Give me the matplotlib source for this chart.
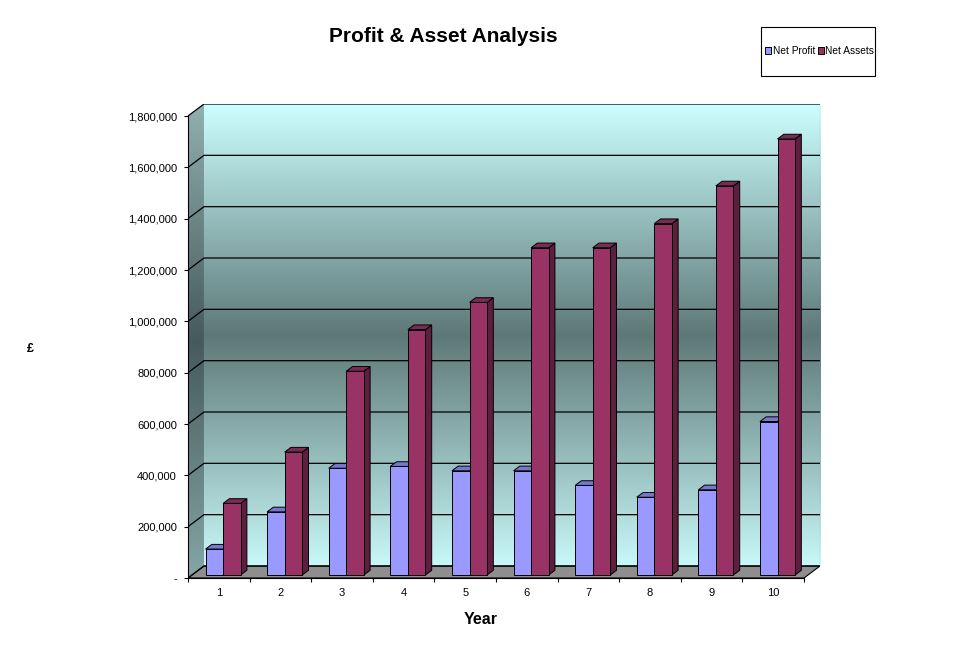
import numpy as np
import matplotlib.pyplot as plt
from matplotlib.patches import Polygon, Rectangle
from matplotlib.colors import LinearSegmentedColormap

plt.rcParams['font.family'] = ['Liberation Sans', 'DejaVu Sans']

years = ['1', '2', '3', '4', '5', '6', '7', '8', '9', '10']
net_profit = [101000, 246000, 416000, 423000, 406000, 406000, 349000, 303000, 332000, 598000]
net_assets = [279000, 479000, 794000, 956000, 1062000, 1275000, 1275000, 1369000, 1516000, 1699000]
y_ticks = [0, 200000, 400000, 600000, 800000, 1000000, 1200000, 1400000, 1600000, 1800000]
y_tick_labels = ['-', '200,000', '400,000', '600,000', '800,000', '1,000,000',
                 '1,200,000', '1,400,000', '1,600,000', '1,800,000']

n = len(years)
ymax = 1800000
# oblique depth of the walls, in data units (16 px right, 12 px up)
px_y = ymax / 462.0
dxw = 16 / 61.7
dyw = 12 * px_y

fig = plt.figure(figsize=(9.77, 6.69), dpi=100)
# axes covers front plane plus the back-wall offset
ax = fig.add_axes([188 / 977, 1 - 578 / 669, 632 / 977, 474 / 669])
ax.set_xlim(0, n + dxw)
ax.set_ylim(0, ymax + dyw)
for s in ax.spines.values():
    s.set_visible(False)

# wall gradient: light cyan at top and bottom, dark slate in the middle
wall_cmap = LinearSegmentedColormap.from_list('wall', ['#C8F8F8', '#5E7878', '#CCFFFF'])
side_cmap = LinearSegmentedColormap.from_list('side', ['#84A6A6', '#465A5A', '#90B0B0'])
grad = np.linspace(0, 1, 256).reshape(-1, 1)

ax.imshow(grad, cmap=wall_cmap, origin='lower', aspect='auto',
          extent=[dxw, n + dxw, dyw, ymax + dyw], zorder=0)
side = Polygon([(0, 0), (dxw, dyw), (dxw, ymax + dyw), (0, ymax)],
               closed=True, facecolor='none', edgecolor='none')
ax.add_patch(side)
im = ax.imshow(grad, cmap=side_cmap, origin='lower', aspect='auto',
               extent=[0, dxw, 0, ymax + dyw], zorder=0)
im.set_clip_path(side)

# floor
ax.add_patch(Polygon([(0, 0), (n, 0), (n + dxw, dyw), (dxw, dyw)], closed=True,
                     facecolor='#8E8E8E', edgecolor='black', linewidth=0.8, zorder=1))

# gridlines on side and back walls
for v in y_ticks:
    ax.plot([0, dxw, n + dxw], [v, v + dyw, v + dyw], color='black', linewidth=0.9, zorder=1)
ax.plot([n + dxw, n + dxw], [dyw, ymax + dyw], color='#808080', linewidth=0.8, zorder=1)

# front axis lines
ax.plot([0, 0], [0, ymax], color='black', linewidth=0.8, zorder=2, clip_on=False)
ax.plot([0, n], [0, 0], color='black', linewidth=0.8, zorder=2, clip_on=False)

# 3D-looking bars
z0, dz = 0.25, 0.39
bx, by = z0 * dxw, z0 * dyw
sx, sy = dz * dxw, dz * dyw
width = 0.285
x = np.arange(n)
series = [
    (net_profit, 0.22, '#9999FF', '#7777CC', '#5C5CA8', 'Net Profit'),
    (net_assets, 0.22 + width, '#993366', '#7A2A55', '#5E1E3F', 'Net Assets'),
]
handles = []
for i in range(n):
    for vals, off, front, top, sidec, lab in series:
        left = x[i] + off + bx
        v = vals[i]
        ax.add_patch(Polygon([(left + width, by), (left + width + sx, by + sy),
                              (left + width + sx, by + v + sy), (left + width, by + v)],
                             closed=True, facecolor=sidec, edgecolor='black', linewidth=0.7, zorder=3))
        ax.add_patch(Polygon([(left, by + v), (left + width, by + v),
                              (left + width + sx, by + v + sy), (left + sx, by + v + sy)],
                             closed=True, facecolor=top, edgecolor='black', linewidth=0.7, zorder=3))
        b = ax.bar(left, v, width=width, bottom=by, align='edge', color=front,
                   edgecolor='black', linewidth=0.7, zorder=3)
        if i == 0:
            handles.append((b, lab))

# ticks
ax.set_yticks(y_ticks)
ax.set_yticklabels(y_tick_labels)
ax.tick_params(axis='y', length=3, width=0.8, pad=5, labelsize=8, direction='out')
ax.set_xticks(np.arange(n + 1))
ax.set_xticklabels([])
ax.set_xticks(x + 0.5, minor=True)
ax.set_xticklabels(years, minor=True)
ax.tick_params(axis='x', which='major', length=3, width=0.8, direction='out')
ax.tick_params(axis='x', which='minor', length=0, pad=7, labelsize=8)

fig.text(443 / 977, 1 - 37 / 669, 'Profit & Asset Analysis', fontsize=15,
         fontweight='bold', ha='center', va='center')
fig.text(481 / 977, 1 - 619 / 669, 'Year', fontsize=11.5, fontweight='bold',
         ha='center', va='center')
fig.text(30 / 977, 1 - 349 / 669, '£', fontsize=9, fontweight='bold',
         ha='center', va='center')

# legend
fig.patches.append(Rectangle((761 / 977, 1 - 76 / 669), 114 / 977, 49 / 669,
                             transform=fig.transFigure, facecolor='white',
                             edgecolor='black', linewidth=0.8))
fig.legend([h[0] for h in handles], [h[1] for h in handles], ncol=2,
           loc='center left', bbox_to_anchor=(765 / 977, 1 - 51 / 669), frameon=False,
           fontsize=7.3, handlelength=0.6, handleheight=0.6, handletextpad=0.15,
           columnspacing=0.25, borderpad=0, borderaxespad=0)

fig.savefig('out.png', dpi=100)
